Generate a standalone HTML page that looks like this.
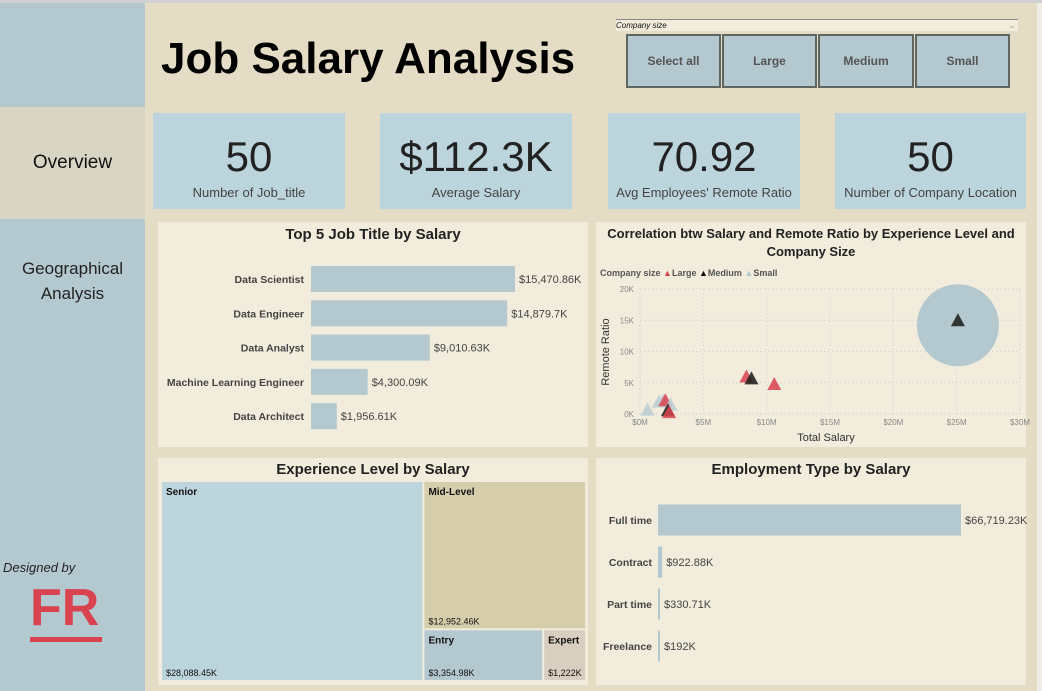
<!DOCTYPE html>
<html><head><meta charset="utf-8">
<style>
*{box-sizing:border-box;margin:0;padding:0}
body{width:1042px;height:691px;overflow:hidden;background:#e4dcc5;font-family:"Liberation Sans",sans-serif;position:relative}
.abs{position:absolute}
.card{position:absolute;background:#f1ecdc}
.kpi{position:absolute;background:#bcd4dc;text-align:center;color:#222}
.kpi .v{font-size:42px;margin-top:22px;line-height:44px}
.kpi .l{font-size:13px;color:#444;margin-top:6px}
.btn{position:absolute;top:34px;height:54px;background:#b4c8d0;border:2px solid #5f6662;font-size:12px;font-weight:bold;color:#555;text-align:center;line-height:50px}
.ctitle{position:absolute;left:0;right:0;text-align:center;font-weight:bold;font-size:15px;color:#222}
</style></head><body>
<div class="abs" style="left:0;top:0;width:1042px;height:3px;background:#d0d0d0"></div>
<div class="abs" style="left:0;top:3px;width:145px;height:688px;background:#b4c8d0"></div>
<div class="abs" style="left:0;top:107px;width:145px;height:112px;background:#d8d5c4;text-align:center;line-height:112px;font-size:19px;color:#111">Overview</div>
<div class="abs" style="left:0;top:256px;width:145px;text-align:center;font-size:17px;line-height:25px;color:#222">Geographical<br>Analysis</div>
<div class="abs" style="left:3px;top:560px;font-size:13px;font-style:italic;color:#222">Designed by</div>
<div class="abs" style="left:30px;top:583px;font-size:52px;font-weight:900;color:#d9434f;line-height:50px">FR</div>
<div class="abs" style="left:30px;top:637px;width:72px;height:5px;background:#d9434f"></div>
<div class="abs" style="left:1037px;top:3px;width:5px;height:688px;background:#f0ede6"></div>

<div class="abs" style="left:161px;top:34px;font-size:44px;font-weight:bold;color:#000">Job Salary Analysis</div>

<div class="abs" style="left:616px;top:19px;width:402px;height:12px;background:#f1ecdc;border-top:1px solid #888;font-size:8px;font-style:italic;line-height:11px;color:#111">Company size<span style="position:absolute;right:3px;color:#999">⌄</span></div>
<div class="btn" style="left:626px;width:95px">Select all</div>
<div class="btn" style="left:722px;width:95px">Large</div>
<div class="btn" style="left:818px;width:96px">Medium</div>
<div class="btn" style="left:915px;width:95px">Small</div>

<div class="kpi" style="left:153px;top:113px;width:192px;height:96px"><div class="v">50</div><div class="l">Number of Job_title</div></div>
<div class="kpi" style="left:380px;top:113px;width:192px;height:96px"><div class="v">$112.3K</div><div class="l">Average Salary</div></div>
<div class="kpi" style="left:608px;top:113px;width:192px;height:96px"><div class="v">70.92</div><div class="l">Avg Employees' Remote Ratio</div></div>
<div class="kpi" style="left:835px;top:113px;width:191px;height:96px"><div class="v">50</div><div class="l">Number of Company Location</div></div>

<div class="card" style="left:158px;top:222px;width:430px;height:225px"><div class="ctitle" style="top:4px">Top 5 Job Title by Salary</div></div>
<div class="card" style="left:596px;top:222px;width:430px;height:225px"><div class="ctitle" style="top:3px;font-size:13px;line-height:18px">Correlation btw Salary and Remote Ratio by Experience Level and Company Size</div></div>
<div class="card" style="left:158px;top:458px;width:430px;height:227px"><div class="ctitle" style="top:3px">Experience Level by Salary</div></div>
<div class="card" style="left:596px;top:458px;width:430px;height:227px"><div class="ctitle" style="top:3px">Employment Type by Salary</div></div>

<svg class="abs" style="left:0;top:0" width="1042" height="691" id="charts" font-family="Liberation Sans, sans-serif"></svg>

<script>
const jobTitles=["Data Scientist","Data Engineer","Data Analyst","Machine Learning Engineer","Data Architect"];
const jobSalaries=[15470.86,14879.7,9010.63,4300.09,1956.61];
const jobLabels=["$15,470.86K","$14,879.7K","$9,010.63K","$4,300.09K","$1,956.61K"];

const empTypes=["Full time","Contract","Part time","Freelance"];
const empSalaries=[66719.23,922.88,330.71,192];
const empLabels=["$66,719.23K","$922.88K","$330.71K","$192K"];

const expLevels=["Senior","Mid-Level","Entry","Expert"];
const expSalaries=[28088.45,12952.46,3354.98,1222];
const expLabels=["$28,088.45K","$12,952.46K","$3,354.98K","$1,222K"];

const scatterSize=["Medium","Large","Large","Medium","Small","Small","Large","Small","Small","Medium","Large"];
const scatterSalaryM=[25.1,8.4,10.6,8.8,1.5,1.8,2.0,2.4,0.6,2.2,2.3];
const scatterRemoteK=[15,6,4.8,5.7,2.0,2.1,2.2,1.5,0.7,0.6,0.3];
const bubbleSalaryM=[25.1];const bubbleRemoteK=[14.2];
const xTicks=[0,5,10,15,20,25,30];
const yTicks=[0,5,10,15,20];

const NS="http://www.w3.org/2000/svg";
const svg=document.getElementById('charts');
function mk(tag,attrs,parent){const e=document.createElementNS(NS,tag);for(const k in attrs)e.setAttribute(k,attrs[k]);(parent||svg).appendChild(e);return e;}

const tx=v=>311+v*(204/15470.86);
jobTitles.forEach((t,i)=>{
  const cy=279+i*34.3;
  const r=mk('rect',{x:311,y:cy-13,width:tx(jobSalaries[i])-311,height:26,fill:'#b4c8d0'});
  
  
  const l=mk('text',{x:304,y:cy+4,'text-anchor':'end','font-size':10.5,'font-weight':'bold',fill:'#444'});l.textContent=t;
  
  
  const v=mk('text',{x:tx(jobSalaries[i])+4,y:cy+4,'font-size':11,fill:'#444'});v.textContent=jobLabels[i];
  
  
});

const sx=m=>640+m*(380/30), sy=k=>414-k*6.25;
xTicks.forEach(t=>{
  const g=mk('line',{x1:sx(t),x2:sx(t),y1:289,y2:414,stroke:'#ccc','stroke-dasharray':'1,3'});
  
  
  const l=mk('text',{x:sx(t),y:425,'text-anchor':'middle','font-size':8,fill:'#888'});l.textContent='$'+t+'M';
  
  
});
yTicks.forEach(t=>{
  const g=mk('line',{x1:640,x2:1020,y1:sy(t),y2:sy(t),stroke:'#ccc','stroke-dasharray':'1,3'});
  
  
  const l=mk('text',{x:634,y:sy(t)+3,'text-anchor':'end','font-size':8,fill:'#888'});l.textContent=t+'K';
  
  
});
const xt=mk('text',{x:826,y:441,'text-anchor':'middle','font-size':11,fill:'#333'});xt.textContent='Total Salary';


const yt=mk('text',{x:609,y:352,'text-anchor':'middle','font-size':11,fill:'#333',transform:'rotate(-90 609 352)'});yt.textContent='Remote Ratio';


const lg=mk('text',{x:600,y:276,'font-size':9,'font-weight':'bold',fill:'#555'});
lg.innerHTML='Company size <tspan fill="#d9434f">▲</tspan>Large <tspan fill="#111">▲</tspan>Medium <tspan fill="#b4c8d0">▲</tspan>Small';


bubbleSalaryM.forEach((m,i)=>{
  const c=mk('circle',{cx:sx(m),cy:sy(bubbleRemoteK[i]),r:41,fill:'#b4c8d0'});
  
  
});
const col={Large:'#d9434f',Medium:'#1a1a1a',Small:'#b8ccd4'};
scatterSize.forEach((s,i)=>{
  const x=sx(scatterSalaryM[i]),y=sy(scatterRemoteK[i]);
  const p=mk('polygon',{points:`${x},${y-7} ${x-7},${y+6} ${x+7},${y+6}`,fill:col[s],'fill-opacity':0.85});
  
  
});

const L=162,T=482,W=423,H=198;
const tot=expSalaries.reduce((a,b)=>a+b,0);
const w0=W*expSalaries[0]/tot;
const rest=tot-expSalaries[0], rx=L+w0+2, rw=W-w0-2;
const h1=H*expSalaries[1]/rest;
const bottom=expSalaries[2]+expSalaries[3];
const w2=rw*expSalaries[2]/bottom;
const rects=[[L,T,w0,H,'#bcd4dc'],[rx,T,rw,h1,'#d6cdaa'],[rx,T+h1+2,w2,H-h1-2,'#b4c8d0'],[rx+w2+2,T+h1+2,rw-w2-2,H-h1-2,'#d8cfc0']];
rects.forEach((r,i)=>{
  const e=mk('rect',{x:r[0],y:r[1],width:r[2],height:r[3],fill:r[4]});
  
  
  const n=mk('text',{x:r[0]+4,y:r[1]+13,'font-size':10,'font-weight':'bold',fill:'#111'});n.textContent=expLevels[i];
  
  
  const v=mk('text',{x:r[0]+4,y:r[1]+r[3]-4,'font-size':9,fill:'#111'});v.textContent=expLabels[i];
  
  
});

const ex=v=>658+v*(303/66719.23);
empTypes.forEach((t,i)=>{
  const cy=520+i*42;
  const r=mk('rect',{x:658,y:cy-15.5,width:Math.max(2,ex(empSalaries[i])-658),height:31,fill:'#b4c8d0'});
  
  
  const l=mk('text',{x:652,y:cy+4,'text-anchor':'end','font-size':10.5,'font-weight':'bold',fill:'#444'});l.textContent=t;
  
  
  const v=mk('text',{x:Math.max(660,ex(empSalaries[i]))+4,y:cy+4,'font-size':11,fill:'#444'});v.textContent=empLabels[i];
  
  
});
</script>
</body></html>
